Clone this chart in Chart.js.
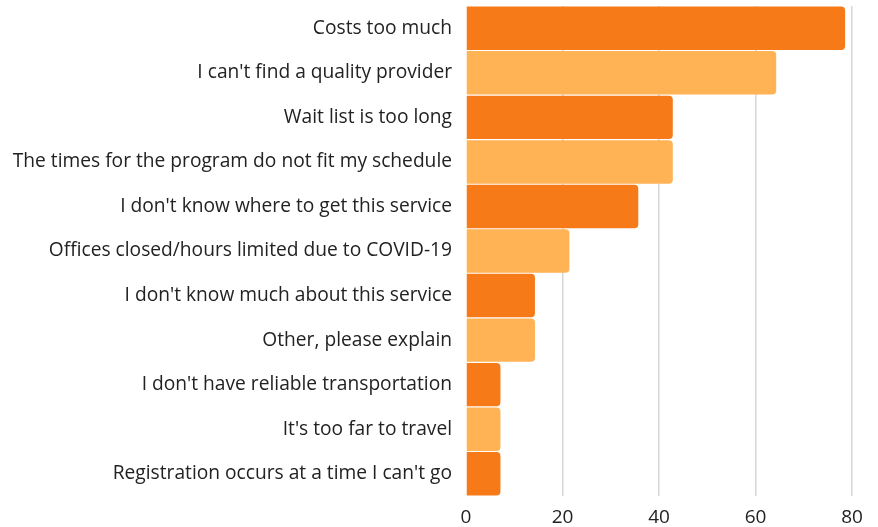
<!DOCTYPE html>
<html>
<head>
<meta charset="utf-8">
<script src="https://cdn.jsdelivr.net/npm/chart.js@4/dist/chart.umd.min.js"></script>
<style>
  html, body { margin: 0; padding: 0; background: #ffffff; }
  #wrap { width: 878px; height: 527px; position: relative; }
</style>
</head>
<body>
<div id="wrap"><canvas id="c" width="878" height="527"></canvas></div>
<script>
const categories = [
  "Costs too much",
  "I can't find a quality provider",
  "Wait list is too long",
  "The times for the program do not fit my schedule",
  "I don't know where to get this service",
  "Offices closed/hours limited due to COVID-19",
  "I don't know much about this service",
  "Other, please explain",
  "I don't have reliable transportation",
  "It's too far to travel",
  "Registration occurs at a time I can't go"
];
const values = [78.57, 64.29, 42.86, 42.86, 35.71, 21.43, 14.29, 14.29, 7.14, 7.14, 7.14];
const xTicks = [0, 20, 40, 60, 80];
const darkOrange = "#F67A18";
const lightOrange = "#FFB354";
const barColors = categories.map((_, i) => i % 2 === 0 ? darkOrange : lightOrange);

const FONT = "'Open Sans', 'Noto Sans', sans-serif";

new Chart(document.getElementById('c'), {
  type: 'bar',
  data: {
    labels: categories,
    datasets: [{
      data: values,
      backgroundColor: barColors,
      borderRadius: 4,
      borderSkipped: 'start',
      barPercentage: 0.975,
      categoryPercentage: 1.0
    }]
  },
  options: {
    indexAxis: 'y',
    responsive: false,
    animation: false,
    devicePixelRatio: 1,
    layout: { padding: { top: 6, right: 26, bottom: 0, left: 0 } },
    plugins: { legend: { display: false }, tooltip: { enabled: false } },
    scales: {
      x: {
        min: 0,
        max: 80,
        afterBuildTicks: (axis) => { axis.ticks = xTicks.map(v => ({ value: v })); },
        afterFit: (scale) => { scale.height = 31; scale.paddingLeft = 0; },
        grid: {
          color: (ctx) => ctx.tick && ctx.tick.value === 0 ? 'rgba(0,0,0,0)' : '#d6d6d6',
          lineWidth: 1.5,
          drawTicks: false
        },
        border: { display: false },
        ticks: {
          color: '#222222',
          font: { family: FONT, size: 19 },
          padding: 10,
          maxRotation: 0
        }
      },
      y: {
        afterFit: (scale) => { scale.width = 466; scale.paddingTop = 0; scale.paddingBottom = 0; },
        grid: { display: false, drawTicks: false },
        border: { display: false },
        ticks: {
          color: '#222222',
          font: { family: FONT, size: 19.2 },
          padding: 14,
          autoSkip: false
        }
      }
    }
  }
});
</script>
</body>
</html>
